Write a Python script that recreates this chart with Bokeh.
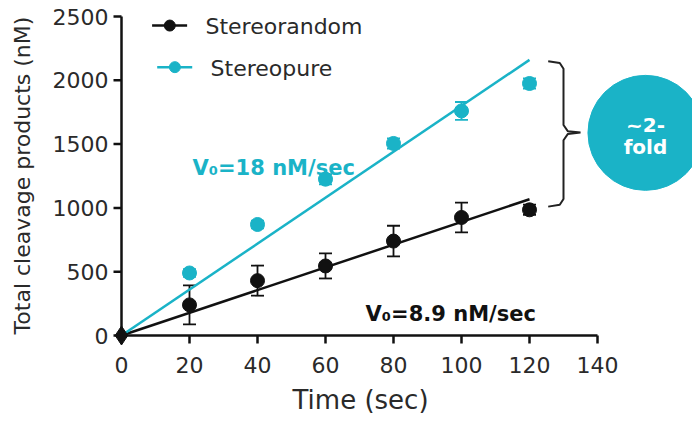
from bokeh.plotting import figure
from bokeh.models import ColumnDataSource, Whisker, Range1d, TeeHead
from bokeh.core.properties import value
from bokeh.embed import file_html
from bokeh.resources import INLINE
import math

# ---------------- data ----------------
time = [20, 40, 60, 80, 100, 120]
random_mean = [240, 430, 545, 740, 925, 985]
random_err = [153, 118, 98, 120, 117, 40]
pure_mean = [490, 870, 1225, 1505, 1760, 1975]
pure_err = [30, 30, 40, 40, 70, 40]
origin_x = [0]
origin_y = [0]
slope_random = 8.9
slope_pure = 18.0
fit_x = [0, 120]
series_names = ["Stereorandom", "Stereopure"]
x_ticks = [0, 20, 40, 60, 80, 100, 120, 140]
x_tick_labels = ["0", "20", "40", "60", "80", "100", "120", "140"]
y_ticks = [0, 500, 1000, 1500, 2000, 2500]
y_tick_labels = ["0", "500", "1000", "1500", "2000", "2500"]
x_title = "Time (sec)"
y_title = "Total cleavage products (nM)"

BLACK = "#111111"
CYAN = "#1ab3c7"
TEXT = "#2a2a2a"
FONT = "DejaVu Sans"

PX_X = 3.4      # pixels per x unit
PX_Y = 0.1276   # pixels per y unit

p = figure(width=692, height=414, output_backend="svg", toolbar_location=None,
           x_range=Range1d(-121 / PX_X, 571 / PX_X), y_range=Range1d(-79 / PX_Y, 331 / PX_Y),
           min_border_left=0, min_border_right=0, min_border_top=4, min_border_bottom=0)
p.outline_line_color = None
p.grid.visible = False
p.background_fill_color = "white"
p.border_fill_color = "white"
p.xaxis.visible = False
p.yaxis.visible = False

# axis lines + ticks at the origin
p.line([0, 0], [0, max(y_ticks)], line_color=BLACK, line_width=2.5)
p.line([0, max(x_ticks)], [0, 0], line_color=BLACK, line_width=2.5)
tick_len_x = 8 / PX_X
tick_len_y = 8 / PX_Y
p.segment(x0=[0] * len(y_ticks), y0=y_ticks, x1=[-tick_len_x] * len(y_ticks), y1=y_ticks,
          line_color=BLACK, line_width=2.5)
p.segment(x0=x_ticks, y0=[0] * len(x_ticks), x1=x_ticks, y1=[-tick_len_y] * len(x_ticks),
          line_color=BLACK, line_width=2.5)

# tick labels and axis titles
p.text(x=x_ticks, y=[-29 / PX_Y] * len(x_ticks), text=x_tick_labels, text_font=value(FONT),
       text_font_size="22px", text_color=TEXT, text_align="center", text_baseline="middle")
p.text(x=[-13 / PX_X] * len(y_ticks), y=y_ticks, text=y_tick_labels, text_font=value(FONT),
       text_font_size="22px", text_color=TEXT, text_align="right", text_baseline="middle")
p.text(x=[70.3], y=[-64 / PX_Y], text=[x_title], text_font=value(FONT), text_font_size="26px",
       text_color=TEXT, text_align="center", text_baseline="middle")
p.text(x=[-99 / PX_X], y=[160 / PX_Y], text=[y_title], text_font=value(FONT), text_font_size="22px",
       text_color=TEXT, text_align="center", text_baseline="middle", angle=math.pi / 2)

# fitted lines
p.line(fit_x, [slope_random * x for x in fit_x], line_color=BLACK, line_width=2.5)
p.line(fit_x, [slope_pure * x for x in fit_x], line_color=CYAN, line_width=2.5)

# error bars
src_r = ColumnDataSource(dict(x=time, upper=[m + e for m, e in zip(random_mean, random_err)],
                              lower=[m - e for m, e in zip(random_mean, random_err)]))
src_p = ColumnDataSource(dict(x=time, upper=[m + e for m, e in zip(pure_mean, pure_err)],
                              lower=[m - e for m, e in zip(pure_mean, pure_err)]))
for src, col in ((src_r, BLACK), (src_p, CYAN)):
    w = Whisker(base="x", upper="upper", lower="lower", source=src, line_color=col, line_width=1.8,
                upper_head=TeeHead(size=13, line_color=col, line_width=1.8),
                lower_head=TeeHead(size=13, line_color=col, line_width=1.8))
    p.add_layout(w)

p.scatter(time, pure_mean, size=14, color=CYAN)
p.scatter(time, random_mean, size=14, color=BLACK)
p.scatter(origin_x, origin_y, marker="diamond", size=19, color=BLACK)

# legend (manual)
leg_y = [2429, 2103]
leg_x0 = [9.0, 10.5]
leg_cols = [BLACK, CYAN]
leg_text_x = [24.7, 26.2]
for i in range(2):
    p.line([leg_x0[i], leg_x0[i] + 10.3], [leg_y[i], leg_y[i]], line_color=leg_cols[i], line_width=2.5)
    p.scatter([leg_x0[i] + 5.2], [leg_y[i]], size=11, color=leg_cols[i])
p.text(x=leg_text_x, y=[2425, 2090], text=series_names, text_font=value(FONT), text_font_size="22px",
       text_color=TEXT, text_baseline="middle", text_align="left")

# rate annotations
p.text(x=[20.9], y=[1309], text=["V\u2080=18 nM/sec"], text_font=value(FONT), text_font_style="bold",
       text_font_size="21px", text_color=CYAN, text_baseline="middle")
p.text(x=[71.8], y=[172], text=["V\u2080=8.9 nM/sec"], text_font=value(FONT), text_font_style="bold",
       text_font_size="21px", text_color=BLACK, text_baseline="middle")

# bracket
top, bot, mid = 2150, 1010, 1590
bx = [125.5, 128.9, 130.0, 130.0, 131.3, 135.0, 131.3, 130.0, 130.0, 128.9, 125.5]
by = [top, top - 15, top - 60, mid + 60, mid + 10, mid, mid - 10, mid - 60, bot + 60, bot + 15, bot]
p.line(bx, by, line_color="#222222", line_width=2)

# fold circle
p.scatter([154.1], [1588], size=115, color=CYAN)
p.text(x=[154.1, 154.1], y=[1646, 1481], text=["~2-", "fold"], text_font=value(FONT),
       text_font_style="bold", text_font_size="20px", text_color="white",
       text_align="center", text_baseline="middle")

open("out.html", "w").write(file_html(p, INLINE))
